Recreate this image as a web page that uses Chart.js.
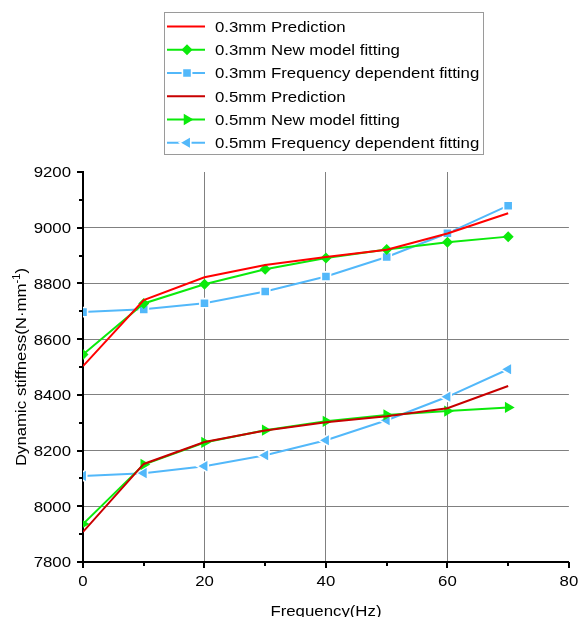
<!DOCTYPE html>
<html>
<head>
<meta charset="utf-8">
<script src="https://cdn.jsdelivr.net/npm/chart.js@4/dist/chart.umd.min.js"></script>
<style>
  html, body { margin: 0; padding: 0; background: #ffffff; }
  #wrap { width: 578px; height: 617px; position: relative; }
</style>
</head>
<body>
<div id="wrap"><canvas id="chart"></canvas></div>
<script>
// Excitation frequencies (Hz)
const frequencies = [0, 10, 20, 30, 40, 50, 60, 70];

// Dynamic stiffness (N·mm^-1), 0.3 mm amplitude
const prediction03 = [8503, 8740, 8822, 8866, 8895, 8921, 8979, 9052];
const newModel03   = [8545, 8728, 8797, 8851, 8891, 8922, 8948, 8968];
const freqDep03    = [8697, 8707, 8729, 8771, 8825, 8895, 8980, 9079];

// Dynamic stiffness (N·mm^-1), 0.5 mm amplitude
const prediction05 = [7908, 8152, 8231, 8272, 8302, 8323, 8352, 8432];
const newModel05   = [7936, 8150, 8229, 8273, 8305, 8328, 8342, 8355];
const freqDep05    = [8109, 8119, 8144, 8183, 8237, 8309, 8393, 8492];

const seriesLabels = [
  '0.3mm Prediction',
  '0.3mm New model fitting',
  '0.3mm Frequency dependent fitting',
  '0.5mm Prediction',
  '0.5mm New model fitting',
  '0.5mm Frequency dependent fitting'
];

// Axis ticks
const xTicks = [0, 20, 40, 60, 80];
const xMinorTicks = [10, 30, 50, 70];
const yTicks = [7800, 8000, 8200, 8400, 8600, 8800, 9000, 9200];
const yMinorTicks = [7900, 8100, 8300, 8500, 8700, 8900, 9100];

const xTitle = 'Frequency(Hz)';
const yTitleMain = 'Dynamic stiffness(N\u00B7mm';
const yTitleSup = '-1';
const yTitleEnd = ')';

const FONT = '"Liberation Sans", Arial, sans-serif';
const STRETCH = 1.12;   // slightly wide lettering
const FONT_SIZE = 15;

const RED = '#FF0000';
const DARK_RED = '#C80000';
const GREEN = '#0BEA0B';
const BLUE = '#52B8FA';

function pairs(ys) {
  return frequencies.map((x, i) => ({ x: x, y: ys[i] }));
}

function lineSet(label, values, color, extra) {
  return Object.assign({
    label: label,
    data: pairs(values),
    borderColor: color,
    backgroundColor: color,
    borderWidth: 2,
    tension: 0,
    pointRadius: 0,
    pointHoverRadius: 0,
    pointBackgroundColor: color,
    pointBorderWidth: 0,
    pointStyle: false
  }, extra || {});
}

const datasets = [
  lineSet(seriesLabels[0], prediction03, RED),
  lineSet(seriesLabels[1], newModel03, GREEN, {
    pointStyle: 'rectRot', pointRadius: 5.5, pointBorderWidth: 0, pointBorderColor: GREEN
  }),
  lineSet(seriesLabels[2], freqDep03, BLUE, {
    pointStyle: 'rect', pointRadius: 6.5, pointBorderWidth: 1.6, pointBorderColor: '#ffffff'
  }),
  lineSet(seriesLabels[3], prediction05, DARK_RED),
  lineSet(seriesLabels[4], newModel05, GREEN, {
    pointStyle: 'triangle', pointRotation: 90, pointRadius: 6.5, pointBorderWidth: 0, pointBorderColor: GREEN
  }),
  lineSet(seriesLabels[5], freqDep05, BLUE, {
    pointStyle: 'triangle', pointRotation: -90, pointRadius: 7.5, pointBorderWidth: 1.6, pointBorderColor: '#ffffff'
  })
];

function drawText(ctx, text, x, y, align, size) {
  ctx.save();
  ctx.font = size + 'px ' + FONT;
  ctx.fillStyle = '#000000';
  ctx.textBaseline = 'alphabetic';
  ctx.translate(x, y);
  ctx.scale(STRETCH, 1);
  ctx.textAlign = align;
  ctx.fillText(text, 0, 0);
  ctx.restore();
}

// Axis ticks, tick labels, axis titles and the boxed legend
const decorations = {
  id: 'decorations',
  afterDraw(chart) {
    const ctx = chart.ctx;
    const xs = chart.scales.x;
    const ys = chart.scales.y;
    const area = chart.chartArea;
    const capMid = FONT_SIZE * 0.358;

    ctx.save();
    ctx.strokeStyle = '#000000';
    ctx.lineWidth = 2;
    // x tick marks (outward)
    xTicks.forEach(v => {
      const px = Math.round(xs.getPixelForValue(v));
      ctx.beginPath(); ctx.moveTo(px, area.bottom); ctx.lineTo(px, area.bottom + 6); ctx.stroke();
    });
    xMinorTicks.forEach(v => {
      const px = Math.round(xs.getPixelForValue(v));
      ctx.beginPath(); ctx.moveTo(px, area.bottom); ctx.lineTo(px, area.bottom + 4); ctx.stroke();
    });
    // y tick marks (outward)
    yTicks.forEach(v => {
      const py = Math.round(ys.getPixelForValue(v));
      ctx.beginPath(); ctx.moveTo(area.left, py); ctx.lineTo(area.left - 6, py); ctx.stroke();
    });
    yMinorTicks.forEach(v => {
      const py = Math.round(ys.getPixelForValue(v));
      ctx.beginPath(); ctx.moveTo(area.left, py); ctx.lineTo(area.left - 4, py); ctx.stroke();
    });
    ctx.restore();

    // tick labels
    xTicks.forEach(v => {
      drawText(ctx, String(v), xs.getPixelForValue(v), area.bottom + 13 + FONT_SIZE * 0.716, 'center', FONT_SIZE);
    });
    yTicks.forEach(v => {
      drawText(ctx, String(v), area.left - 12, ys.getPixelForValue(v) + capMid, 'right', FONT_SIZE);
    });

    // x axis title
    drawText(ctx, xTitle, (area.left + area.right) / 2, area.bottom + 54, 'center', FONT_SIZE);

    // y axis title, rotated, with superscript
    ctx.save();
    const supSize = 10;
    ctx.font = FONT_SIZE + 'px ' + FONT;
    const wMain = ctx.measureText(yTitleMain).width;
    const wEnd = ctx.measureText(yTitleEnd).width;
    ctx.font = supSize + 'px ' + FONT;
    const wSup = ctx.measureText(yTitleSup).width;
    const total = (wMain + wSup + wEnd) * STRETCH;
    ctx.translate(21 + capMid, (area.top + area.bottom) / 2);
    ctx.rotate(-Math.PI / 2);
    let cx = -total / 2;
    drawText(ctx, yTitleMain, cx, 0, 'left', FONT_SIZE);
    cx += wMain * STRETCH;
    drawText(ctx, yTitleSup, cx, -6, 'left', supSize);
    cx += wSup * STRETCH;
    drawText(ctx, yTitleEnd, cx, 0, 'left', FONT_SIZE);
    ctx.restore();

    // legend box
    const box = { left: 164.5, top: 12.5, right: 483.5, bottom: 154.5 };
    ctx.save();
    ctx.fillStyle = '#ffffff';
    ctx.fillRect(box.left, box.top, box.right - box.left, box.bottom - box.top);
    ctx.strokeStyle = '#9a9a9a';
    ctx.lineWidth = 1;
    ctx.strokeRect(box.left, box.top, box.right - box.left, box.bottom - box.top);
    ctx.restore();

    chart.data.datasets.forEach((ds, i) => {
      const y = 26.5 + i * 23.25;
      ctx.save();
      ctx.strokeStyle = ds.borderColor;
      ctx.lineWidth = 2;
      ctx.beginPath(); ctx.moveTo(167, y); ctx.lineTo(205, y); ctx.stroke();
      if (ds.pointStyle) {
        ctx.fillStyle = ds.pointBackgroundColor;
        ctx.strokeStyle = ds.pointBorderColor;
        ctx.lineWidth = ds.pointBorderWidth;
        Chart.helpers.drawPoint(ctx, {
          pointStyle: ds.pointStyle,
          rotation: ds.pointRotation || 0,
          radius: ds.pointRadius,
          borderWidth: ds.pointBorderWidth
        }, 187, y);
      }
      ctx.restore();
      drawText(ctx, ds.label, 215, y + capMid, 'left', FONT_SIZE);
    });
  }
};

const gridColor = (edges) => (c) => {
  const v = c.tick ? c.tick.value : null;
  return edges.includes(v) ? 'rgba(0,0,0,0)' : '#808080';
};

new Chart(document.getElementById('chart'), {
  type: 'line',
  data: { datasets: datasets },
  options: {
    responsive: true,
    maintainAspectRatio: false,
    animation: false,
    devicePixelRatio: 1,
    events: [],
    layout: { padding: { top: 172, left: 0, right: 8, bottom: 0 } },
    plugins: {
      legend: { display: false },
      title: { display: false },
      tooltip: { enabled: false }
    },
    scales: {
      x: {
        type: 'linear',
        min: 0,
        max: 80,
        afterBuildTicks: (s) => { s.ticks = xTicks.map(v => ({ value: v })); },
        afterFit: (s) => { s.height = 55; },
        ticks: { display: false },
        grid: { drawTicks: false, color: gridColor([0, 80]), lineWidth: 1 },
        border: { display: true, color: '#000000', width: 2 }
      },
      y: {
        type: 'linear',
        min: 7800,
        max: 9200,
        afterBuildTicks: (s) => { s.ticks = yTicks.map(v => ({ value: v })); },
        afterFit: (s) => { s.width = 83; },
        ticks: { display: false },
        grid: { drawTicks: false, color: gridColor([7800, 9200]), lineWidth: 1 },
        border: { display: true, color: '#000000', width: 2 }
      }
    }
  },
  plugins: [decorations]
});
</script>
</body>
</html>
